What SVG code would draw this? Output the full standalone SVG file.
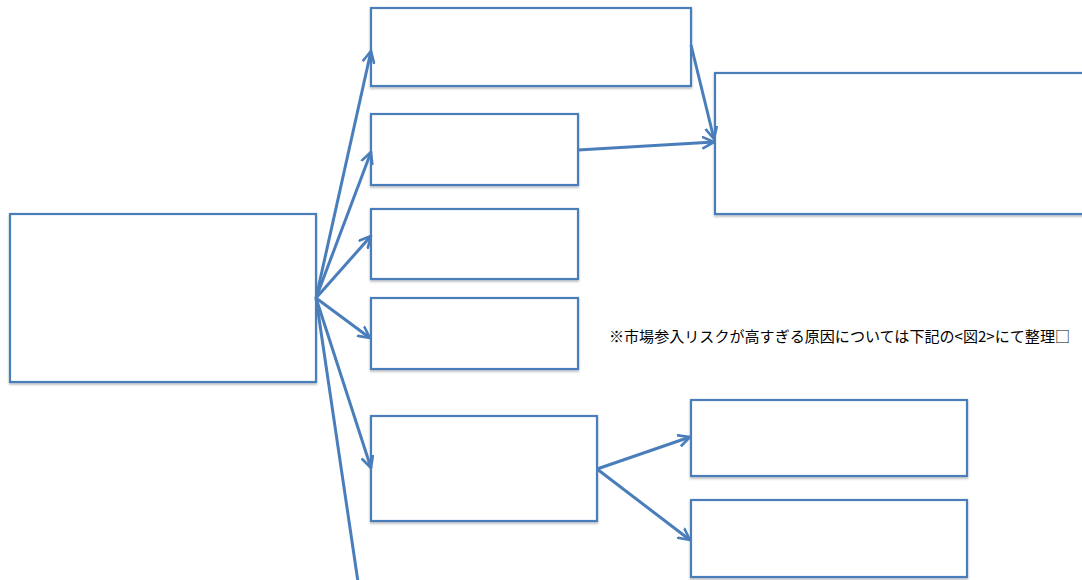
<svg xmlns="http://www.w3.org/2000/svg" width="1082" height="580" viewBox="0 0 1082 580">
<defs>
<marker id="arr" viewBox="0 0 14 14" refX="12" refY="7" markerWidth="14" markerHeight="14" markerUnits="userSpaceOnUse" orient="auto">
<path d="M1,1.5 L12,7 L1,12.5" fill="none" stroke="#4a7ebb" stroke-width="2.6" stroke-linecap="round" stroke-linejoin="round"/>
</marker>
<filter id="sh" x="-5%" y="-5%" width="110%" height="115%">
<feDropShadow dx="0" dy="1.5" stdDeviation="1" flood-color="#000" flood-opacity="0.3"/>
</filter>
</defs>
<style>
.box{fill:#fff;stroke:#4a7ebb;stroke-width:2.2;filter:url(#sh)}
.con{fill:none;stroke:#4a7ebb;stroke-width:3;marker-end:url(#arr)}
.plain{fill:none;stroke:#4a7ebb;stroke-width:3}
.note{font-family:"Noto Sans CJK JP","Liberation Sans",sans-serif;font-size:15px;fill:#000}
</style>
<rect width="1082" height="580" fill="#fff"/>
<g id="n-left"><rect class="box" x="10" y="214" width="306" height="168"/></g>
<g id="n-top"><rect class="box" x="371" y="8" width="320" height="78"/></g>
<g id="n-b2"><rect class="box" x="371" y="114" width="207" height="71"/></g>
<g id="n-b3"><rect class="box" x="371" y="209" width="207" height="70"/></g>
<g id="n-b4"><rect class="box" x="371" y="298" width="207" height="71"/></g>
<g id="n-b5"><rect class="box" x="371" y="416" width="226" height="105"/></g>
<g id="n-right"><rect class="box" x="715" y="73" width="372" height="141"/></g>
<g id="n-b6"><rect class="box" x="691" y="400" width="276" height="76"/></g>
<g id="n-b7"><rect class="box" x="691" y="500" width="276" height="77"/></g>
<g id="connectors">
<line class="con" x1="316" y1="298" x2="371" y2="51"/>
<line class="con" x1="316" y1="298" x2="371" y2="152"/>
<line class="con" x1="316" y1="298" x2="371" y2="236"/>
<line class="con" x1="316" y1="298" x2="370" y2="338"/>
<line class="con" x1="316" y1="298" x2="371" y2="468"/>
<line class="plain" x1="316" y1="298" x2="358" y2="582"/>
<line class="con" x1="691" y1="45" x2="714" y2="139"/>
<line class="con" x1="578" y1="150" x2="714" y2="142"/>
<line class="con" x1="597" y1="469" x2="690" y2="437"/>
<line class="con" x1="597" y1="469" x2="690" y2="540"/>
</g>
<text class="note" x="609" y="342" textLength="461" lengthAdjust="spacingAndGlyphs">※市場参入リスクが高すぎる原因については下記の&lt;図2&gt;にて整理□</text>
</svg>
